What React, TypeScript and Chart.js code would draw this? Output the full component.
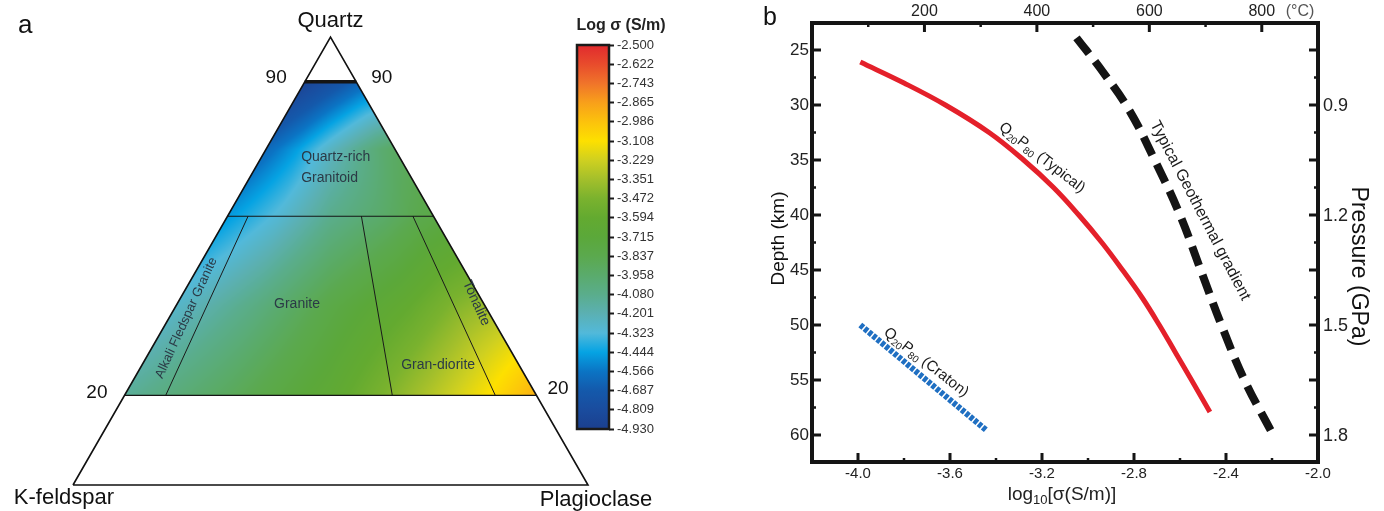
import React, { useEffect, useRef } from "react";
import { Chart, registerables } from "chart.js";

Chart.register(...registerables);

const SANS = '"Liberation Sans", Arial, Helvetica, sans-serif';

// ---------------- Panel a : QAP ternary ----------------
const VERTEX_LABELS = ["Quartz", "K-feldspar", "Plagioclase"];
const QUARTZ_BOUNDARIES = [90, 60, 20];
const QUARTZ_TICK_LABELS = ["90", "20"];
const PLAG_RATIO_BOUNDARIES = [10, 65, 90];

// log sigma field sampled on (quartz %, plagioclase / (alkali feldspar + plagioclase) %)
const FIELD_QUARTZ = [20, 40, 60, 75, 90];
const FIELD_PLAG_RATIO = [0, 25, 50, 75, 90, 100];
const FIELD_Q20 = [-4.12, -3.9, -3.65, -3.3, -3.08, -2.92];
const FIELD_Q40 = [-4.27, -4.05, -3.8, -3.6, -3.45, -3.38];
const FIELD_Q60 = [-4.47, -4.3, -4.08, -3.95, -3.85, -3.8];
const FIELD_Q75 = [-4.62, -4.45, -4.25, -4.07, -3.97, -3.92];
const FIELD_Q90 = [-4.88, -4.83, -4.78, -4.72, -4.68, -4.66];

const FIELD_NAMES = ["Quartz-rich", "Granitoid", "Granite", "Gran-diorite", "Tonalite", "Alkali Fledspar Granite"];

const COLORBAR_TITLE = "Log σ (S/m)";
const COLORBAR_TICKS = [
  -2.5, -2.622, -2.743, -2.865, -2.986, -3.108, -3.229, -3.351, -3.472, -3.594, -3.715,
  -3.837, -3.958, -4.08, -4.201, -4.323, -4.444, -4.566, -4.687, -4.809, -4.93,
];
const CMAP_VALUES = [
  -4.93, -4.809, -4.687, -4.566, -4.444, -4.323, -4.201, -4.08, -3.958, -3.837, -3.715,
  -3.594, -3.472, -3.351, -3.229, -3.108, -2.986, -2.865, -2.743, -2.622, -2.5,
];
const CMAP_COLORS = [
  "#1b3f8e", "#1a4c9e", "#1459ab", "#0b74c4", "#05a3e3", "#52b9da", "#5bb0b3", "#5aad8c",
  "#5aab6c", "#5ba94e", "#5ba83a", "#63aa30", "#7ab22e", "#a3bf2b", "#cfd020", "#fde000",
  "#fcc20c", "#f8a01a", "#f0742a", "#e84c2c", "#e12a2e",
];

// ---------------- Panel b : depth profiles ----------------
const TYPICAL_DEPTH = [26.1, 28, 30, 32.5, 35, 37.5, 40, 42.5, 45, 47.5, 50, 52.5, 55, 57.9];
const TYPICAL_LOGSIGMA = [-3.99, -3.8, -3.62, -3.43, -3.28, -3.15, -3.04, -2.94, -2.85, -2.765, -2.69, -2.62, -2.55, -2.47];
const CRATON_DEPTH = [50.0, 59.6];
const CRATON_LOGSIGMA = [-3.99, -3.44];
const GEOTHERM_DEPTH = [23.9, 27, 30.5, 35, 40, 45, 50, 55, 59.8];
const GEOTHERM_LOGSIGMA = [-3.05, -2.935, -2.82, -2.71, -2.6, -2.51, -2.42, -2.32, -2.2];

const SIGMA_TICKS = [-4.0, -3.6, -3.2, -2.8, -2.4, -2.0];
const SIGMA_MINOR = [-3.8, -3.4, -3.0, -2.6, -2.2];
const DEPTH_TICKS = [25, 30, 35, 40, 45, 50, 55, 60];
const DEPTH_MINOR = [27.5, 32.5, 37.5, 42.5, 47.5, 52.5, 57.5];
const PRESSURE_TICKS = [0.75, 0.9, 1.05, 1.2, 1.35, 1.5, 1.65, 1.8];
const PRESSURE_MINOR = [0.825, 0.975, 1.125, 1.275, 1.425, 1.575, 1.725];
const PRESSURE_LABELS = [0.9, 1.2, 1.5, 1.8];
const TEMP_TICKS = [200, 400, 600, 800];
const TEMP_MINOR = [100, 300, 500, 700];
const GPA_PER_KM = 0.03;

const CURVE_LABELS = [
  { parts: [["Q"], ["20", 1], ["P"], ["80", 1], [" (Typical)"]], sigma: -3.2, depth: 34.8, angle: 38 },
  { parts: [["Q"], ["20", 1], ["P"], ["80", 1], [" (Craton)"]], sigma: -3.704, depth: 53.4, angle: 38 },
  { parts: [["Typical Geothermal gradient"]], sigma: -2.513, depth: 39.6, angle: 62.5 },
];

// ---------------- helpers ----------------
function tern(q: number, r: number) {
  return { x: (r / 100) * (100 - q) + q / 2, y: q };
}
function hexRgb(h: string) {
  return [parseInt(h.slice(1, 3), 16), parseInt(h.slice(3, 5), 16), parseInt(h.slice(5, 7), 16)];
}
const CMAP_RGB = CMAP_COLORS.map(hexRgb);
function cmap(v: number) {
  if (v <= CMAP_VALUES[0]) return CMAP_RGB[0];
  const n = CMAP_VALUES.length;
  if (v >= CMAP_VALUES[n - 1]) return CMAP_RGB[n - 1];
  let i = 0;
  while (i < n - 2 && v > CMAP_VALUES[i + 1]) i++;
  const t = (v - CMAP_VALUES[i]) / (CMAP_VALUES[i + 1] - CMAP_VALUES[i]);
  const a = CMAP_RGB[i], b = CMAP_RGB[i + 1];
  return [a[0] + (b[0] - a[0]) * t, a[1] + (b[1] - a[1]) * t, a[2] + (b[2] - a[2]) * t];
}
function seg(arr: number[], v: number) {
  let i = 0;
  while (i < arr.length - 2 && v > arr[i + 1]) i++;
  const t = Math.max(0, Math.min(1, (v - arr[i]) / (arr[i + 1] - arr[i])));
  return [i, t];
}
const FIELD_ROWS = [FIELD_Q20, FIELD_Q40, FIELD_Q60, FIELD_Q75, FIELD_Q90];
function fieldValue(q: number, r: number) {
  const [qi, qt] = seg(FIELD_QUARTZ, q);
  const [ri, rt] = seg(FIELD_PLAG_RATIO, r);
  const a = FIELD_ROWS[qi], b = FIELD_ROWS[qi + 1];
  const va = a[ri] + (a[ri + 1] - a[ri]) * rt;
  const vb = b[ri] + (b[ri + 1] - b[ri]) * rt;
  return va + (vb - va) * qt;
}
function drawText(ctx: CanvasRenderingContext2D, text: string, x: number, y: number, opts: any = {}) {
  ctx.save();
  ctx.font = opts.font || `16px ${SANS}`;
  ctx.fillStyle = opts.color || "#111";
  ctx.textAlign = opts.align || "center";
  ctx.textBaseline = opts.baseline || "middle";
  ctx.translate(x, y);
  if (opts.angle) ctx.rotate((opts.angle * Math.PI) / 180);
  ctx.fillText(text, 0, 0);
  ctx.restore();
}
function drawRich(ctx: CanvasRenderingContext2D, parts: any[], x: number, y: number, angle: number, size: number, color: string) {
  ctx.save();
  ctx.translate(x, y);
  ctx.rotate((angle * Math.PI) / 180);
  ctx.fillStyle = color;
  ctx.textBaseline = "middle";
  ctx.textAlign = "left";
  const fonts = parts.map((p) => `${p[1] ? Math.round(size * 0.68) : size}px ${SANS}`);
  const widths = parts.map((p, i) => {
    ctx.font = fonts[i];
    return ctx.measureText(p[0]).width;
  });
  let cx = -widths.reduce((s, w) => s + w, 0) / 2;
  parts.forEach((p, i) => {
    ctx.font = fonts[i];
    ctx.fillText(p[0], cx, p[1] ? size * 0.3 : 0);
    cx += widths[i];
  });
  ctx.restore();
}

// ---------------- plugins ----------------
const qapFieldPlugin = {
  id: "qapField",
  beforeDatasetsDraw(chart: any) {
    const { ctx } = chart;
    const xs = chart.scales.x, ys = chart.scales.y;
    const qMin = QUARTZ_BOUNDARIES[2], qMax = QUARTZ_BOUNDARIES[0];
    const x0 = Math.floor(xs.getPixelForValue(tern(qMin, 0).x));
    const x1 = Math.ceil(xs.getPixelForValue(tern(qMin, 100).x));
    const y0 = Math.floor(ys.getPixelForValue(qMax));
    const y1 = Math.ceil(ys.getPixelForValue(qMin));
    const w = x1 - x0 + 1, h = y1 - y0 + 1;
    const off = document.createElement("canvas");
    off.width = w;
    off.height = h;
    const octx = off.getContext("2d")!;
    const img = octx.createImageData(w, h);
    for (let j = 0; j < h; j++) {
      const q = ys.getValueForPixel(y0 + j + 0.5);
      if (q < qMin || q > qMax) continue;
      for (let i = 0; i < w; i++) {
        const u = xs.getValueForPixel(x0 + i + 0.5);
        const r = ((u - q / 2) / (100 - q)) * 100;
        if (r < 0 || r > 100) continue;
        const c = cmap(fieldValue(q, r));
        const k = (j * w + i) * 4;
        img.data[k] = c[0];
        img.data[k + 1] = c[1];
        img.data[k + 2] = c[2];
        img.data[k + 3] = 255;
      }
    }
    octx.putImageData(img, 0, 0);
    ctx.drawImage(off, x0, y0);
  },
  afterDatasetsDraw(chart: any) {
    const { ctx } = chart;
    const xs = chart.scales.x, ys = chart.scales.y;
    const px = (p: { x: number; y: number }) => [xs.getPixelForValue(p.x), ys.getPixelForValue(p.y)];
    const big = `22px ${SANS}`;
    drawText(ctx, "a", 18, 33, { font: `26px ${SANS}`, align: "left", baseline: "alphabetic" });
    const [qx, qy] = px(tern(100, 0));
    drawText(ctx, VERTEX_LABELS[0], qx, qy - 16, { font: big });
    const [kx, ky] = px(tern(0, 0));
    drawText(ctx, VERTEX_LABELS[1], kx - 9, ky + 13, { font: big });
    const [plx, ply] = px(tern(0, 100));
    drawText(ctx, VERTEX_LABELS[2], plx + 8, ply + 15, { font: big });
    const tickFont = `19px ${SANS}`;
    const [a90x, a90y] = px(tern(90, 0));
    const [b90x, b90y] = px(tern(90, 100));
    drawText(ctx, QUARTZ_TICK_LABELS[0], a90x - 18, a90y - 4, { font: tickFont, align: "right" });
    drawText(ctx, QUARTZ_TICK_LABELS[0], b90x + 15, b90y - 4, { font: tickFont, align: "left" });
    const [a20x, a20y] = px(tern(20, 0));
    const [b20x, b20y] = px(tern(20, 100));
    drawText(ctx, QUARTZ_TICK_LABELS[1], a20x - 17, a20y - 3, { font: tickFont, align: "right" });
    drawText(ctx, QUARTZ_TICK_LABELS[1], b20x + 11, b20y - 7, { font: tickFont, align: "left" });
    const lbl = "#2b3a46";
    const f14 = `14px ${SANS}`;
    const spots = [
      { u: 44.3, v: 73.2, align: "left" },
      { u: 44.3, v: 68.5, align: "left" },
      { u: 43.5, v: 40.4 },
      { u: 70.9, v: 26.8 },
      { u: 78.3, v: 40.6, angle: 65.6 },
      { u: 22.0, v: 37.3, angle: -65.4, font: `13px ${SANS}` },
    ];
    FIELD_NAMES.forEach((name, i) => {
      const s: any = spots[i];
      drawText(ctx, name, xs.getPixelForValue(s.u), ys.getPixelForValue(s.v), {
        font: s.font || f14,
        color: lbl,
        align: s.align || "center",
        angle: s.angle || 0,
      });
    });
  },
};

const colorbarPlugin = {
  id: "colorbarFill",
  beforeDatasetsDraw(chart: any) {
    const { ctx, chartArea: ca } = chart;
    const ys = chart.scales.y;
    const g = ctx.createLinearGradient(0, ca.top, 0, ca.bottom);
    CMAP_VALUES.forEach((v, i) => {
      const t = (ys.getPixelForValue(v) - ca.top) / (ca.bottom - ca.top);
      g.addColorStop(Math.max(0, Math.min(1, t)), CMAP_COLORS[i]);
    });
    ctx.save();
    ctx.fillStyle = g;
    ctx.fillRect(ca.left, ca.top, ca.right - ca.left, ca.bottom - ca.top);
    ctx.lineWidth = 2.5;
    ctx.strokeStyle = "#1a1a1a";
    ctx.strokeRect(ca.left, ca.top, ca.right - ca.left, ca.bottom - ca.top);
    ctx.restore();
    drawText(ctx, COLORBAR_TITLE, (ca.left + ca.right) / 2 + 28, ca.top - 19, {
      font: `bold 16px ${SANS}`,
      color: "#222",
    });
  },
};

const profileAxesPlugin = {
  id: "profileAxes",
  afterDatasetsDraw(chart: any) {
    const { ctx, chartArea: ca } = chart;
    const xs = chart.scales.x, ys = chart.scales.y, xt = chart.scales.xT, yp = chart.scales.yP;
    ctx.save();
    ctx.strokeStyle = "#151515";
    ctx.lineCap = "butt";
    const line = (x1: number, y1: number, x2: number, y2: number, w: number) => {
      ctx.lineWidth = w;
      ctx.beginPath();
      ctx.moveTo(x1, y1);
      ctx.lineTo(x2, y2);
      ctx.stroke();
    };
    const MAJ = 9, MIN = 4;
    SIGMA_TICKS.forEach((v) => { const x = xs.getPixelForValue(v); line(x, ca.bottom, x, ca.bottom - MAJ, 3); });
    SIGMA_MINOR.forEach((v) => { const x = xs.getPixelForValue(v); line(x, ca.bottom, x, ca.bottom - MIN, 2.5); });
    TEMP_TICKS.forEach((v) => { const x = xt.getPixelForValue(v); line(x, ca.top, x, ca.top + MAJ, 3); });
    TEMP_MINOR.forEach((v) => { const x = xt.getPixelForValue(v); line(x, ca.top, x, ca.top + MIN, 2.5); });
    DEPTH_TICKS.forEach((v) => { const y = ys.getPixelForValue(v); line(ca.left, y, ca.left + MAJ, y, 3); });
    DEPTH_MINOR.forEach((v) => { const y = ys.getPixelForValue(v); line(ca.left, y, ca.left + MIN, y, 2.5); });
    PRESSURE_TICKS.forEach((v) => { const y = yp.getPixelForValue(v); line(ca.right, y, ca.right - MAJ, y, 3); });
    PRESSURE_MINOR.forEach((v) => { const y = yp.getPixelForValue(v); line(ca.right, y, ca.right - MIN, y, 2.5); });
    ctx.lineWidth = 4;
    ctx.strokeRect(ca.left, ca.top, ca.right - ca.left, ca.bottom - ca.top);
    ctx.restore();

    const tc = "#222";
    SIGMA_TICKS.forEach((v) =>
      drawText(ctx, v.toFixed(1), xs.getPixelForValue(v), ca.bottom + 12, { font: `15px ${SANS}`, color: tc })
    );
    TEMP_TICKS.forEach((v) =>
      drawText(ctx, String(v), xt.getPixelForValue(v), ca.top - 11, { font: `16px ${SANS}`, color: tc })
    );
    drawText(ctx, "(°C)", xt.getPixelForValue(TEMP_TICKS[TEMP_TICKS.length - 1]) + 24, ca.top - 11, {
      font: `16px ${SANS}`,
      color: "#555",
      align: "left",
    });
    DEPTH_TICKS.forEach((v) =>
      drawText(ctx, String(v), ca.left - 3, ys.getPixelForValue(v), { font: `17px ${SANS}`, color: tc, align: "right" })
    );
    PRESSURE_LABELS.forEach((v) =>
      drawText(ctx, v.toFixed(1), ca.right + 5, yp.getPixelForValue(v) + 1, { font: `18px ${SANS}`, color: tc, align: "left" })
    );
    drawText(ctx, "b", ca.left - 49, 25, { font: `25px ${SANS}`, align: "left", baseline: "alphabetic" });
    drawText(ctx, "Depth (km)", ca.left - 33, (ca.top + ca.bottom) / 2 - 4, { font: `19px ${SANS}`, angle: -90 });
    drawText(ctx, "Pressure (GPa)", ca.right + 40, (ca.top + ca.bottom) / 2 + 24, { font: `23px ${SANS}`, angle: 90 });
    drawRich(ctx, [["log"], ["10", 1], ["[σ(S/m)]"]], (ca.left + ca.right) / 2 - 3, ca.bottom + 33, 0, 19, tc);

    CURVE_LABELS.forEach((l) => {
      drawRich(ctx, l.parts, xs.getPixelForValue(l.sigma), ys.getPixelForValue(l.depth), l.angle, l.parts.length > 1 ? 15 : 16, "#1a1a1a");
    });
  },
};

// ---------------- component ----------------
export default function App() {
  const aRef = useRef<HTMLCanvasElement>(null);
  const cbRef = useRef<HTMLCanvasElement>(null);
  const bRef = useRef<HTMLCanvasElement>(null);

  useEffect(() => {
    const line = (data: any[], color: string, width: number, extra: any = {}) => ({
      data,
      showLine: true,
      borderColor: color,
      borderWidth: width,
      pointRadius: 0,
      fill: false,
      ...extra,
    });

    // ----- panel a -----
    const outline = [tern(0, 0), tern(0, 100), tern(100, 0), tern(0, 0)];
    const qLines = QUARTZ_BOUNDARIES.map((q, i) =>
      line([tern(q, 0), tern(q, 100)], "#151515", i === 0 ? 3.5 : 1.1)
    );
    const rLines = PLAG_RATIO_BOUNDARIES.map((r) =>
      line([tern(QUARTZ_BOUNDARIES[1], r), tern(QUARTZ_BOUNDARIES[2], r)], "#1a1a1a", 1)
    );
    const kA = 515 / 100;
    const kV = 448 / 100;
    const chartA = new Chart(aRef.current!, {
      type: "scatter",
      data: {
        datasets: [
          line(outline, "#111", 1.6, { borderJoinStyle: "miter" }),
          ...qLines,
          ...rLines,
        ],
      },
      options: {
        animation: false,
        responsive: false,
        events: [],
        layout: { padding: 0 },
        plugins: { legend: { display: false }, tooltip: { enabled: false } },
        scales: {
          x: { type: "linear", display: false, min: -73 / kA, max: -73 / kA + 700 / kA },
          y: { type: "linear", display: false, max: 100 + 37 / kV, min: 100 + 37 / kV - 511 / kV },
        },
      },
      plugins: [qapFieldPlugin],
    } as any);

    // ----- colorbar -----
    const chartCB = new Chart(cbRef.current!, {
      type: "scatter",
      data: { datasets: [] },
      options: {
        animation: false,
        responsive: false,
        events: [],
        layout: { padding: { left: 17, top: 45, bottom: 11, right: 0 } },
        plugins: { legend: { display: false }, tooltip: { enabled: false } },
        scales: {
          x: { type: "linear", display: false, min: 0, max: 1 },
          y: {
            type: "linear",
            position: "right",
            min: COLORBAR_TICKS[COLORBAR_TICKS.length - 1],
            max: COLORBAR_TICKS[0],
            afterBuildTicks: (axis: any) => {
              axis.ticks = COLORBAR_TICKS.map((v) => ({ value: v }));
            },
            afterFit: (axis: any) => {
              axis.width = 61;
            },
            border: { display: false },
            grid: { display: true, drawOnChartArea: false, drawTicks: true, tickLength: 5, tickWidth: 2, tickColor: "#1a1a1a" },
            ticks: {
              autoSkip: false,
              padding: 3,
              color: "#333",
              font: { family: SANS, size: 13 },
              callback: (v: any) => Number(v).toFixed(3),
            },
          },
        },
      },
      plugins: [colorbarPlugin],
    } as any);

    // ----- panel b -----
    const pts = (xs: number[], ys: number[]) => xs.map((x, i) => ({ x, y: ys[i] }));
    const depthMin = 25 - 27 / 11;
    const depthMax = 60 + 27 / 11;
    const chartB = new Chart(bRef.current!, {
      type: "scatter",
      data: {
        datasets: [
          line(pts(GEOTHERM_LOGSIGMA, GEOTHERM_DEPTH), "#141414", 8, { borderDash: [20, 10], tension: 0.4 }),
          line(pts(TYPICAL_LOGSIGMA, TYPICAL_DEPTH), "#e4202a", 5, { tension: 0.4 }),
          line(pts(CRATON_LOGSIGMA, CRATON_DEPTH), "#1f6fc2", 6, { borderDash: [4, 1.5] }),
          line(pts(CRATON_LOGSIGMA, CRATON_DEPTH), "rgba(255,255,255,0.75)", 1.4, { borderDash: [1.5, 4] }),
        ],
      },
      options: {
        animation: false,
        responsive: false,
        events: [],
        layout: { padding: { left: 52, right: 66, top: 23, bottom: 49 } },
        plugins: { legend: { display: false }, tooltip: { enabled: false } },
        scales: {
          x: { type: "linear", display: false, min: -4.2, max: -2.0 },
          y: { type: "linear", display: false, reverse: true, min: depthMin, max: depthMax },
          xT: { type: "linear", axis: "x", position: "top", display: false, min: 0, max: 900 },
          yP: { type: "linear", axis: "y", position: "right", display: false, reverse: true, min: depthMin * GPA_PER_KM, max: depthMax * GPA_PER_KM },
        },
      },
      plugins: [profileAxesPlugin],
    } as any);

    return () => {
      chartA.destroy();
      chartCB.destroy();
      chartB.destroy();
    };
  }, []);

  const abs = (left: number, w: number, h: number): React.CSSProperties => ({
    position: "absolute",
    left,
    top: 0,
    width: w,
    height: h,
  });

  return (
    <div style={{ position: "fixed", left: 0, top: 0, width: 1384, height: 511, background: "#fff", overflow: "hidden" }}>
      <canvas ref={aRef} width={700} height={511} style={abs(0, 700, 511)} />
      <canvas ref={cbRef} width={110} height={440} style={abs(560, 110, 440)} />
      <canvas ref={bRef} width={624} height={511} style={abs(760, 624, 511)} />
    </div>
  );
}
